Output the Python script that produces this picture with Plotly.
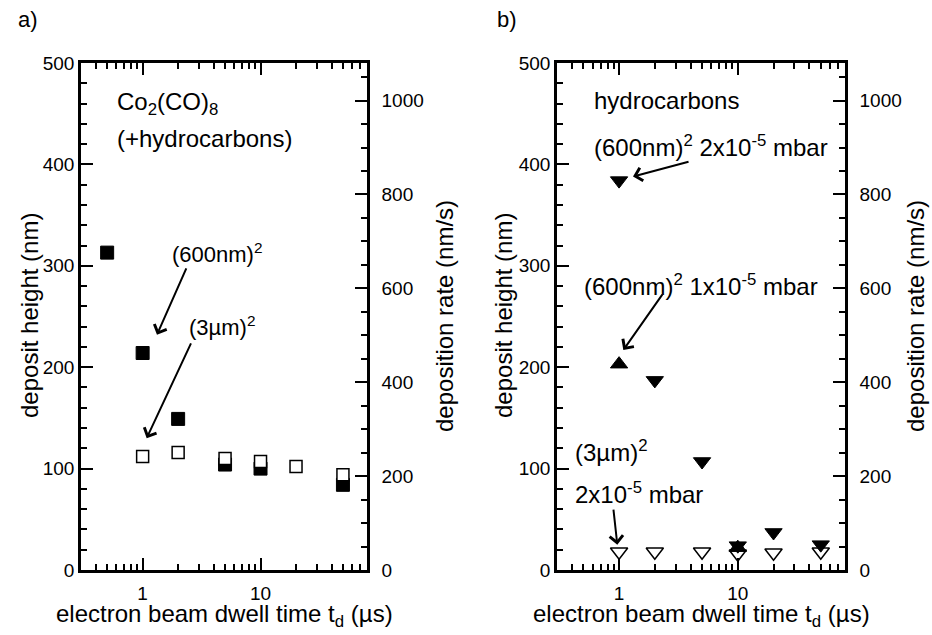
import numpy as np
import plotly.graph_objects as go

# ---------------- data ----------------
# panel a) Co2(CO)8 (+hydrocarbons)
a_filled_x = [0.5, 1, 2, 5, 10, 50]          # (600nm)^2
a_filled_y = [313, 214, 149, 104, 100, 84]
a_open_x = [1, 2, 5, 10, 20, 50]             # (3um)^2
a_open_y = [112, 116, 110, 107, 102, 94]

# panel b) hydrocarbons
b_down_x = [1, 2, 5, 10, 20, 50]             # (600nm)^2 2x10-5 mbar
b_down_y = [384, 187, 107, 24, 37, 25]
b_up_x = [1, 10]                             # (600nm)^2 1x10-5 mbar
b_up_y = [203, 22]
b_open_x = [1, 2, 5, 10, 20, 50]             # (3um)^2 2x10-5 mbar
b_open_y = [18, 18, 18, 16, 17, 18]

x_range = [0.3, 80]
h_range = [0, 500]
rate_range = [0, 1080]
x_tick_vals = [1, 10]
x_tick_text = ["1", "10"]
x_minor_vals = [0.3, 0.4, 0.5, 0.6, 0.7, 0.8, 0.9, 2, 3, 4, 5, 6, 7, 8, 9,
                20, 30, 40, 50, 60, 70, 80]

FONT = "Liberation Sans, Arial, Helvetica, sans-serif"
W, H = 932, 635

fig = go.Figure()

# panel a traces
fig.add_trace(go.Scatter(x=a_filled_x, y=a_filled_y, mode="markers", xaxis="x", yaxis="y",
                         marker=dict(symbol="square", size=13, color="black",
                                     line=dict(color="black", width=1))))
fig.add_trace(go.Scatter(x=a_open_x, y=a_open_y, mode="markers", xaxis="x", yaxis="y",
                         marker=dict(symbol="square", size=12, color="white",
                                     line=dict(color="black", width=1.5))))
# panel b traces
fig.add_trace(go.Scatter(x=b_open_x, y=b_open_y, mode="markers", xaxis="x2", yaxis="y3",
                         marker=dict(symbol="triangle-down", size=15, color="white",
                                     line=dict(color="black", width=1.5))))
fig.add_trace(go.Scatter(x=b_down_x, y=b_down_y, mode="markers", xaxis="x2", yaxis="y3",
                         marker=dict(symbol="triangle-down", size=15, color="black",
                                     line=dict(color="black", width=1))))
fig.add_trace(go.Scatter(x=b_up_x, y=b_up_y, mode="markers", xaxis="x2", yaxis="y3",
                         marker=dict(symbol="triangle-up", size=15, color="black",
                                     line=dict(color="black", width=1))))
# empty traces that keep the right-hand rate axes alive
fig.add_trace(go.Scatter(x=[], y=[], mode="markers", xaxis="x", yaxis="y2", hoverinfo="skip"))
fig.add_trace(go.Scatter(x=[], y=[], mode="markers", xaxis="x2", yaxis="y4", hoverinfo="skip"))

tickfont = dict(family=FONT, size=19, color="black")


def xaxis(domain, anchor):
    return dict(type="log", domain=domain, anchor=anchor, automargin=False,
                range=[np.log10(x_range[0]), np.log10(x_range[1])],
                tickvals=x_tick_vals, ticktext=x_tick_text,
                ticks="inside", ticklen=12, tickwidth=2, tickcolor="black",
                minor=dict(tickvals=x_minor_vals, ticks="inside", ticklen=6,
                           tickwidth=1.5, tickcolor="black"),
                showline=True, linewidth=2.5, linecolor="black", mirror="ticks",
                showgrid=False, zeroline=False, tickfont=tickfont,
                ticklabelstandoff=4)


def yaxis(anchor):
    return dict(anchor=anchor, domain=[1 - 570 / H, 1 - 63 / H], range=h_range,
                automargin=False,
                tick0=0, dtick=100, ticks="inside", ticklen=12, tickwidth=2,
                tickcolor="black",
                minor=dict(dtick=20, ticks="inside", ticklen=6, tickwidth=1.5,
                           tickcolor="black"),
                showline=True, linewidth=2.5, linecolor="black",
                showgrid=False, zeroline=False, tickfont=tickfont)


def raxis(anchor, over):
    return dict(anchor=anchor, overlaying=over, side="right", range=rate_range,
                automargin=False,
                tick0=0, dtick=200, ticks="inside", ticklen=12, tickwidth=2,
                tickcolor="black",
                minor=dict(dtick=50, ticks="inside", ticklen=6, tickwidth=1.5,
                           tickcolor="black"),
                showline=True, linewidth=2.5, linecolor="black",
                showgrid=False, zeroline=False, tickfont=tickfont,
                ticklabelstandoff=8)


fig.update_layout(
    width=W, height=H, autosize=False,
    margin=dict(l=0, r=0, t=0, b=0, pad=0, autoexpand=False),
    paper_bgcolor="white", plot_bgcolor="white",
    font=dict(family=FONT, color="black"),
    xaxis=xaxis([81 / W, 367 / W], "y"),
    xaxis2=xaxis([557 / W, 845 / W], "y3"),
    yaxis=yaxis("x"),
    yaxis2=raxis("x", "y"),
    yaxis3=yaxis("x2"),
    yaxis4=raxis("x2", "y3"),
    showlegend=False,
)

L = np.log10
ann = []
afont = dict(family=FONT, size=24, color="black")
sfont = dict(family=FONT, size=22, color="black")


def text(xref, yref, x, y, s, font=afont):
    ann.append(dict(xref=xref, yref=yref, x=L(x), y=y, text=s, showarrow=False,
                    xanchor="left", yanchor="middle", font=font))


def arrow(xref, yref, tail, head):
    ann.append(dict(xref=xref, yref=yref, axref=xref, ayref=yref,
                    x=L(head[0]), y=head[1], ax=L(tail[0]), ay=tail[1], text="",
                    showarrow=True, arrowhead=4, arrowsize=1.3, arrowwidth=2,
                    arrowcolor="black", standoff=0, startstandoff=0))


# panel a annotations
text("x", "y", 0.583, 460, "Co<sub>2</sub>(CO)<sub>8</sub>")
text("x", "y", 0.583, 426, "(+hydrocarbons)")
text("x", "y", 1.70, 313, "(600nm)<sup>2</sup>", sfont)
arrow("x", "y", (2.377, 299), (1.323, 232))
text("x", "y", 2.36, 241, "(3µm)<sup>2</sup>", sfont)
arrow("x", "y", (2.606, 225), (1.082, 130))

# panel b annotations
text("x2", "y3", 0.592, 463, "hydrocarbons")
text("x2", "y3", 0.592, 418, "(600nm)<sup>2</sup> 2x10<sup>-5</sup> mbar")
arrow("x2", "y3", (3.96, 403), (1.31, 388))
text("x2", "y3", 0.49, 281, "(600nm)<sup>2</sup> 1x10<sup>-5</sup> mbar")
arrow("x2", "y3", (2.359, 273), (1.086, 217))
text("x2", "y3", 0.41, 117, "(3µm)<sup>2</sup>")
text("x2", "y3", 0.41, 76, "2x10<sup>-5</sup> mbar")
arrow("x2", "y3", (0.894, 61), (0.966, 25))


def ptext(px, py, s, angle=0, size=24):
    ann.append(dict(xref="paper", yref="paper", x=px / W, y=1 - py / H, text=s,
                    showarrow=False, xanchor="center", yanchor="middle",
                    textangle=angle, font=dict(family=FONT, size=size, color="black")))


ptext(29, 316, "deposit height (nm)", -90)
ptext(444, 316, "deposition rate (nm/s)", -90)
ptext(503, 316, "deposit height (nm)", -90)
ptext(915, 316, "deposition rate (nm/s)", -90)
ptext(224, 615, "electron beam dwell time t<sub>d</sub> (µs)")
ptext(701, 615, "electron beam dwell time t<sub>d</sub> (µs)")
ptext(28, 20, "a)", size=22)
ptext(507, 20, "b)", size=22)

fig.update_layout(annotations=ann)
fig.write_html("out.html")
